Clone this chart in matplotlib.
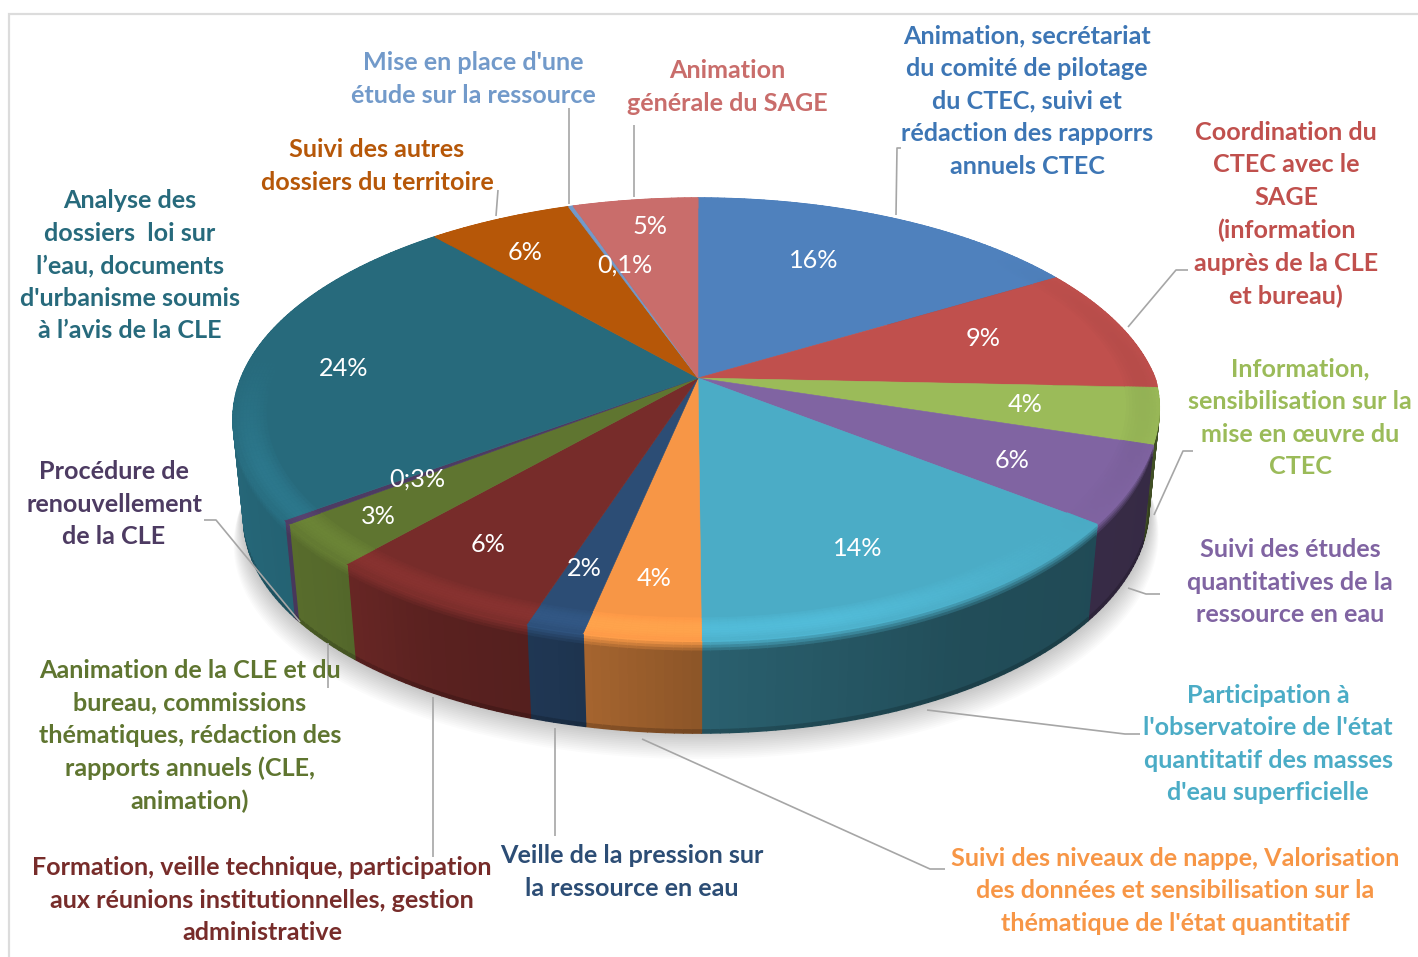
import numpy as np
import matplotlib
matplotlib.use("Agg")
import matplotlib.pyplot as plt
from matplotlib.collections import PolyCollection
from matplotlib.colors import to_rgb
from matplotlib.font_manager import FontProperties
from matplotlib.transforms import Transform

categories = [
    "Animation, secrétariat\ndu comité de pilotage\ndu CTEC, suivi et\nrédaction des rapporrs\nannuels CTEC",
    "Coordination du\nCTEC avec le\nSAGE\n(information\nauprès de la CLE\net bureau)",
    "Information,\nsensibilisation sur la\nmise en œuvre du\nCTEC",
    "Suivi des études\nquantitatives de la\nressource en eau",
    "Participation à\nl'observatoire de l'état\nquantitatif des masses\nd'eau superficielle",
    "Suivi des niveaux de nappe, Valorisation\ndes données et sensibilisation sur la\nthématique de l'état quantitatif",
    "Veille de la pression sur\nla ressource en eau",
    "Formation, veille technique, participation\naux réunions institutionnelles, gestion\nadministrative",
    "Aanimation de la CLE et du\nbureau, commissions\nthématiques, rédaction des\nrapports annuels (CLE,\nanimation)",
    "Procédure de\nrenouvellement\nde la CLE",
    "Analyse des\ndossiers  loi sur\nl’eau, documents\nd'urbanisme soumis\nà l’avis de la CLE",
    "Suivi des autres\ndossiers du territoire",
    "Mise en place d'une\nétude sur la ressource",
    "Animation\ngénérale du SAGE",
]
shares = [16.4, 9.3, 4.1, 5.6, 14.5, 3.4, 1.7, 6.5, 3.1, 0.3, 23.7, 6.0, 0.2, 5.2]
pct_labels = ["16%", "9%", "4%", "6%", "14%", "4%", "2%", "6%", "3%", "0;3%", "24%", "6%", "0,1%", "5%"]
colors = ["#4f81bd", "#c0504d", "#9bbb59", "#8064a2", "#4bacc6", "#f79646", "#2c4d75",
          "#772c2a", "#5f7530", "#4d3b62", "#276a7c", "#b65708", "#729aca", "#c96d6b"]
text_colors = ["#3d76b5", "#c0504d", "#9bbb59", "#8064a2", "#4bacc6", "#f79646", "#2c4d75",
               "#772c2a", "#5f7530", "#4d3b62", "#276a7c", "#b65708", "#729aca", "#c96d6b"]

label_pos = [(1027, 101), (1286, 214.5), (1300, 418), (1290, 582), (1268, 744), (1175, 891), (632, 872),
             (262, 900), (190, 736), (114, 504), (130, 266), (377, 166), (473, 79), (727, 87)]
pct_pos = [(814, 260), (983, 338), (1025, 404), (1012, 460), (858, 548), (654, 578), (584, 568),
           (488, 544), (378, 516), (417, 479), (344, 368), (525, 252), (625, 265), (650, 226)]
leaders = [
    [(896, 215), (897, 148), (901, 148)],
    [(1128, 327), (1176, 270), (1188, 270)],
    [(1154, 515), (1183, 451), (1193, 451)],
    [(1128, 588), (1146, 594), (1160, 594)],
    [(927, 710), (1125, 734), (1140, 734)],
    [(642, 739), (930, 869), (945, 869)],
    [(555, 728), (555, 836)],
    [(433, 697), (433, 857)],
    [(328, 643), (328, 688)],
    [(300, 622), (216, 520), (204, 520)],
    [(496, 216), (498, 190)],
    [(569, 204), (569, 108)],
    [(634, 197), (634, 125)],
]

W, H = 1418, 957
CX, CY = 698.0, 378.0
RX, RY, K = 457.0, 213.4, 0.1855
FONT = "Lato"


class Perspective(Transform):
    input_dims = 2
    output_dims = 2
    is_separable = False
    has_inverse = False

    def transform_non_affine(self, values):
        values = np.asarray(values, float)
        w = 1 + K * values[:, 1]
        # the reference's lower right rim is slightly tighter than a true ellipse
        squeeze = 1 - 0.05 * np.clip(values[:, 0], 0, None) * np.clip(-values[:, 1], 0, None)
        return np.column_stack((CX + RX * values[:, 0] * squeeze / w, CY - RY * values[:, 1] / w))


proj = Perspective()


def bottom_of(pts):
    return np.column_stack((CX + (pts[:, 0] - CX) * 0.977, CY + (pts[:, 1] - CY) * 0.97 + 101))


fig = plt.figure(figsize=(W / 100, H / 100), dpi=100, facecolor="white")
ax = fig.add_axes([0, 0, 1, 1])
wedges, _ = ax.pie(shares, colors=colors, startangle=90, counterclock=False, radius=1.0,
                   wedgeprops=dict(linewidth=0.4))
ax.set_aspect("auto")
ax.set_xlim(0, W)
ax.set_ylim(H, 0)
ax.axis("off")

for w, c in zip(wedges, colors):
    w.set_transform(proj + ax.transData)
    w.set_edgecolor(c)
    w.set_zorder(4)

# frame
ax.plot([1418, 9, 9], [13.5, 13.5, 957], color="#dcdcdc", lw=1.6, zorder=0, solid_joinstyle="miter")

# soft shadow
full = np.radians(np.arange(0, 361, 2.0))
ring = proj.transform(np.column_stack((np.cos(full), np.sin(full))))
bring = bottom_of(ring)
for i in range(16):
    f = i / 15
    scale = 1.022 - 0.022 * f
    pts = np.column_stack((CX + (bring[:, 0] - CX) * scale, bring[:, 1] + 28 * (1 - f) - 2))
    ax.fill(pts[:, 0], pts[:, 1], color="black", alpha=0.016, lw=0, zorder=1)


def shade(u):
    t = (u + 1) / 2
    return np.interp(t, [0, .15, .25, .37, .45, .52, .75, 1], [.98, .9, .76, .7, .62, .55, .45, .42])


def mix(c, f):
    c = np.asarray(c) * f
    return tuple(np.clip(c, 0, 1))


wall_polys, wall_cols, rim_polys, rim_cols = [], [], [], []
wall_z = [0, .03, .06, .09, .12, .965, 1.0]
rim_r = np.linspace(.93, 1.0, 11)
rim_profile = np.sin(np.linspace(0.1, 0.86, 10) * np.pi) * 0.11
for w, c in zip(wedges, colors):
    base = np.array(to_rgb(c))
    soften = 1 - 0.8 * base.mean()
    a1, a2 = w.theta1, w.theta2
    n = max(1, int(np.ceil((a2 - a1) / 1.0)))
    th = np.radians(np.linspace(a1, a2, n + 1))
    for i in range(n):
        tt = np.array([th[i], th[i + 1]])
        mid = tt.mean()
        um, vm = np.cos(mid), np.sin(mid)
        front = np.clip((0.1 - vm) / 0.5, 0, 1)
        lit = np.clip((0.75 - um) / 0.5, -0.8, 1)
        edge_rgb = mix(base, 1 + 0.1 * front * lit * soften)
        wc = np.array(mix(base, shade(um)))
        top = proj.transform(np.column_stack((np.cos(tt), np.sin(tt))))
        bot = bottom_of(top)
        for j in range(len(wall_z) - 1):
            z0, z1 = wall_z[j], wall_z[j + 1]
            p0 = top + (bot - top) * z0
            p1 = top + (bot - top) * z1
            wall_polys.append([p0[0], p0[1], p1[1], p1[0]])
            if j < 4:
                s = j / 4
                col = np.array(edge_rgb) * (1 - s) + wc * s
            elif j == 4:
                col = wc
            else:
                col = wc * 0.82
            wall_cols.append(tuple(col))
        for j in range(len(rim_r) - 1):
            r0, r1 = rim_r[j], rim_r[j + 1]
            p0 = proj.transform(np.column_stack((r0 * np.cos(tt), r0 * np.sin(tt))))
            p1 = proj.transform(np.column_stack((r1 * np.cos(tt), r1 * np.sin(tt))))
            rim_polys.append([p0[0], p0[1], p1[1], p1[0]])
            gain = rim_profile[j] * front * lit * soften * 1.6 if lit > 0 else 0.9 * rim_profile[j] * lit
            rim_cols.append(mix(base, 1 + gain))

wall = PolyCollection(wall_polys, facecolors=wall_cols, edgecolors=wall_cols, linewidths=1.0, zorder=2)
ax.add_collection(wall, autolim=False)
rim = PolyCollection(rim_polys, facecolors=rim_cols, edgecolors=rim_cols, linewidths=0.6, zorder=5)
ax.add_collection(rim, autolim=False)

# leader lines
for line in leaders:
    xs, ys = zip(*line)
    ax.plot(xs, ys, color="#a6a6a6", lw=1.2, zorder=6, solid_capstyle="butt")

# category labels
fp = FontProperties(family=FONT, weight="bold", size=18.1)
renderer = fig.canvas.get_renderer()
_, lp_h, lp_d = renderer.get_text_width_height_descent("lp", fp, False)
spacing = (32.5 - lp_d) / (lp_h - lp_d)
for text, (x, y), col in zip(categories, label_pos, text_colors):
    ax.text(x, y, text, color=col, fontproperties=fp, ha="center", va="center",
            multialignment="center", linespacing=spacing, zorder=7)

# percentage labels
for text, (x, y) in zip(pct_labels, pct_pos):
    ax.text(x, y, text, color="white", family=FONT, size=18.2, ha="center", va="center", zorder=8)

fig.savefig("out.png", dpi=100, facecolor="white")
